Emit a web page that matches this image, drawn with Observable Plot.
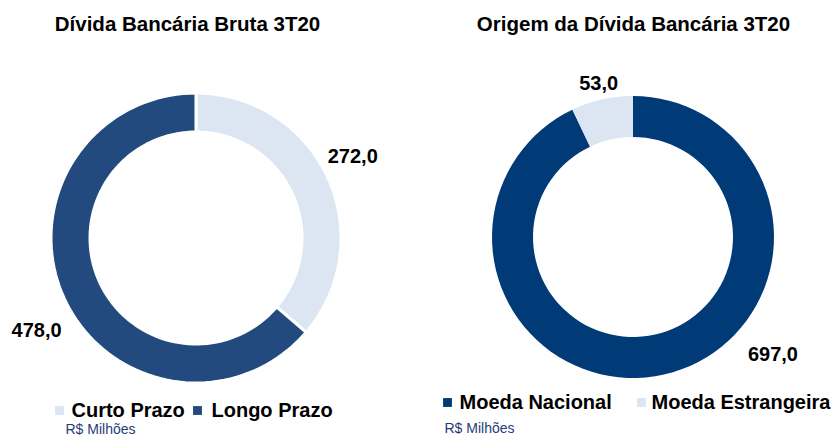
<!DOCTYPE html>
<html>
<head>
<meta charset="utf-8">
<script src="https://cdn.jsdelivr.net/npm/d3@7"></script>
<script src="https://cdn.jsdelivr.net/npm/@observablehq/plot@0.6"></script>
<style>
  html, body { margin: 0; padding: 0; background: #fff; }
  #chart svg { display: block; }
</style>
</head>
<body>
<div id="chart"></div>
<script>
// ---- Data ----
const leftTitle = "Dívida Bancária Bruta 3T20";
const rightTitle = "Origem da Dívida Bancária 3T20";
const leftNames = ["Curto Prazo", "Longo Prazo"];
const leftValues = [272.0, 478.0];
const rightNames = ["Moeda Nacional", "Moeda Estrangeira"];
const rightValues = [697.0, 53.0];
const unitLabel = "R$ Milhões";

// ---- Styles ----
const leftColors = ["#dce6f2", "#234a7e"];
const rightColors = ["#003b78", "#dce6f2"];
const fmt = v => v.toFixed(1).replace(".", ",");

const W = 832, H = 437;
const FONT = "'Liberation Sans', Arial, sans-serif";

function ring(names, values, cx, cy, ro, ri) {
  const arcs = d3.pie().sort(null).value(d => d)(values);
  const rows = [];
  arcs.forEach((a, k) => {
    const n = 90;
    for (let i = 0; i <= n; i++) {
      const t = a.startAngle + (a.endAngle - a.startAngle) * i / n;
      rows.push({
        name: names[k],
        xo: cx + ro * Math.sin(t), yo: cy - ro * Math.cos(t),
        xi: cx + ri * Math.sin(t), yi: cy - ri * Math.cos(t)
      });
    }
  });
  return {arcs, rows};
}

function labels(arcs, values, cx, cy, radii, offsets) {
  return arcs.map((a, k) => {
    const m = (a.startAngle + a.endAngle) / 2;
    return {
      text: fmt(values[k]),
      x: cx + radii[k] * Math.sin(m) + offsets[k][0],
      y: cy - radii[k] * Math.cos(m) + offsets[k][1]
    };
  });
}

const L = ring(leftNames, leftValues, 196, 238, 145, 106);
const R = ring(rightNames, rightValues, 633, 237, 141, 100);

const leftLabels = labels(L.arcs, leftValues, 196, 238, [172, 176], [[0, -10], [0, 18]]);
const rightLabels = labels(R.arcs, rightValues, 633, 237, [120, 158], [[113, 0], [0, 0]]);

const legendLeft = leftNames.map((n, i) => ({name: n, sx: [59, 197][i], tx: [71, 211][i], y: 410}));
const legendRight = rightNames.map((n, i) => ({name: n, sx: [447, 641][i], tx: [459, 651][i], y: 402}));
const legend = legendLeft.concat(legendRight);

const titles = [
  {text: leftTitle, x: 187, y: 24},
  {text: rightTitle, x: 633, y: 24}
];
const units = [
  {text: unitLabel, x: 65, y: 429},
  {text: unitLabel, x: 444, y: 428}
];

const plot = Plot.plot({
  width: W, height: H,
  margin: 0,
  style: {fontFamily: FONT, background: "#fff"},
  x: {domain: [0, W], range: [0, W], axis: null},
  y: {domain: [0, H], range: [0, H], axis: null},
  color: {domain: leftNames.concat(rightNames), range: leftColors.concat(rightColors)},
  marks: [
    Plot.area(L.rows, {x1: "xo", y1: "yo", x2: "xi", y2: "yi", z: "name", fill: "name", stroke: "white", strokeWidth: 3}),
    Plot.area(R.rows, {x1: "xo", y1: "yo", x2: "xi", y2: "yi", z: "name", fill: "name"}),
    Plot.text(leftLabels.concat(rightLabels), {x: "x", y: "y", text: "text", fontSize: 20, fontWeight: "bold", fill: "#000"}),
    Plot.text(titles, {x: "x", y: "y", text: "text", fontSize: 20.5, fontWeight: "bold", fill: "#000"}),
    Plot.dot(legend, {x: "sx", y: "y", symbol: "square", r: 5, fill: "name", stroke: null}),
    Plot.text(legendLeft, {x: "tx", y: "y", text: "name", textAnchor: "start", fontSize: 20, fontWeight: "bold", fill: "#000"}),
    Plot.text(legendRight, {x: "tx", y: "y", text: "name", textAnchor: "start", fontSize: 20, fontWeight: "bold", fill: "#000"}),
    Plot.text(units, {x: "x", y: "y", text: "text", textAnchor: "start", fontSize: 14, fill: "#1f3c78"})
  ]
});
document.getElementById("chart").appendChild(plot);
</script>
</body>
</html>
